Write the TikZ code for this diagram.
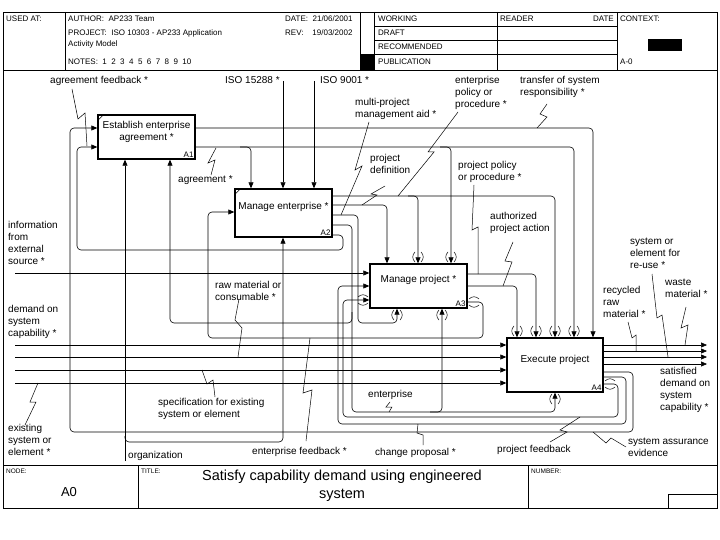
\documentclass[tikz,border=0pt]{standalone}
\usepackage{fontspec}
\setmainfont{Liberation Sans}
\usetikzlibrary{arrows.meta,calc}
\newcommand{\tunT}[2]{\draw[tun] (#1-3,#2-11) .. controls (#1-6,#2-8) and (#1-6,#2-4) .. (#1-3,#2-1);\draw[tun] (#1+3,#2-11) .. controls (#1+6,#2-8) and (#1+6,#2-4) .. (#1+3,#2-1);}
\newcommand{\tunB}[2]{\draw[tun] (#1-3,#2+11) .. controls (#1-6,#2+8) and (#1-6,#2+4) .. (#1-3,#2+1);\draw[tun] (#1+3,#2+11) .. controls (#1+6,#2+8) and (#1+6,#2+4) .. (#1+3,#2+1);}
\newcommand{\tunL}[2]{\draw[tun] (#1-11,#2-3) .. controls (#1-8,#2-6) and (#1-4,#2-6) .. (#1-1,#2-3);\draw[tun] (#1-11,#2+3) .. controls (#1-8,#2+6) and (#1-4,#2+6) .. (#1-1,#2+3);}
\newcommand{\tunR}[2]{\draw[tun] (#1+11,#2-3) .. controls (#1+8,#2-6) and (#1+4,#2-6) .. (#1+1,#2-3);\draw[tun] (#1+11,#2+3) .. controls (#1+8,#2+6) and (#1+4,#2+6) .. (#1+1,#2+3);}
\begin{document}
\begin{tikzpicture}[x=1pt,y=-1pt,
  ln/.style={line width=0.6pt, rounded corners=4pt},
  arr/.style={ln, -{Triangle[length=6pt,width=5pt]}},
  frm/.style={line width=0.6pt},
  tun/.style={line width=0.5pt},
  sq/.style={line width=0.5pt},
  box/.style={draw, line width=1.4pt, inner sep=0pt},
  btxt/.style={font=\fontsize{10}{12}\selectfont, align=center, inner sep=0pt},
  idl/.style={font=\fontsize{8}{9}\selectfont, inner sep=0pt, anchor=south east},
  lbl/.style={font=\fontsize{10}{12}\selectfont, align=left, inner sep=0pt, anchor=north west},
  hdr/.style={font=\fontsize{8}{9}\selectfont, inner sep=0pt, anchor=west},
  hds/.style={font=\fontsize{6.5}{8}\selectfont, inner sep=0pt, anchor=west}]
\useasboundingbox (0,0) rectangle (720,540);
% ---------- frame ----------
\draw[frm] (3,12) rectangle (717,508);
\draw[frm] (3,70) -- (717,70);
\draw[frm] (3,465) -- (717,465);
\draw[frm] (65,12) -- (65,70);
\draw[frm] (360,12) -- (360,70);
\draw[frm] (374,12) -- (374,70);
\draw[frm] (497,12) -- (497,70);
\draw[frm] (617,12) -- (617,70);
\draw[frm] (374,26) -- (617,26);
\draw[frm] (374,40) -- (617,40);
\draw[frm] (374,54) -- (617,54);
\fill (360,54) rectangle (374,70);
\fill (648,39) rectangle (682,51);
\draw[frm] (138,465) -- (138,508);
\draw[frm] (528,465) -- (528,508);
\draw[frm] (668,494) rectangle (717,508);
% header text
\node[hdr] (usedat) at (6,19) {USED AT:};
\node[hdr] (author) at (68,19) {AUTHOR:\ \ AP233 Team};
\node[hdr] (project) at (68,33) {PROJECT:\ \ ISO 10303 - AP233 Application};
\node[hdr] (actmod) at (68,44) {Activity Model};
\node[hdr] (notes) at (68,62) {NOTES:\ \ 1\ \ 2\ \ 3\ \ 4\ \ 5\ \ 6\ \ 7\ \ 8\ \ 9\ \ 10};
\node[hdr] (date) at (285,19) {DATE:\ \ 21/06/2001};
\node[hdr] (rev) at (285,33) {REV:\ \ \ \ 19/03/2002};
\node[hdr] (working) at (378,19) {WORKING};
\node[hdr] (draft) at (378,33) {DRAFT};
\node[hdr] (recom) at (378,47) {RECOMMENDED};
\node[hdr] (publ) at (378,62) {PUBLICATION};
\node[hdr] (reader) at (500,19) {READER};
\node[hdr, anchor=east] (rdate) at (614,19) {DATE};
\node[hdr] (context) at (620,19) {CONTEXT:};
\node[hdr] (azero) at (620,62) {A-0};
% footer text
\node[hds] (nodel) at (6,471) {NODE:};
\node[hds] (titlel) at (141,471) {TITLE:};
\node[hds] (numl) at (531,471) {NUMBER:};
\node[font=\fontsize{13}{15}\selectfont, inner sep=0pt] (nodeval) at (69,492) {A0};
\node[font=\fontsize{14.5}{18}\selectfont, align=center, inner sep=0pt] (title) at (342,486) {Satisfy capability demand using engineered\\system};
% ---------- boxes ----------
\node[box, minimum width=97pt, minimum height=44pt] (A1) at (146.5,137) {};
\node[box, minimum width=97pt, minimum height=48pt] (A2) at (283.5,213) {};
\node[box, minimum width=97pt, minimum height=44pt] (A3) at (418.5,286) {};
\node[box, minimum width=96pt, minimum height=54pt] (A4) at (555,365) {};
\node[btxt] (A1t) at (146.5,132) {Establish enterprise\\agreement *};
\node[btxt] (A2t) at (283.5,207) {Manage enterprise *};
\node[btxt] (A3t) at (418.5,280) {Manage project *};
\node[btxt] (A4t) at (555,360) {Execute project};
\node[idl] (A1n) at ($(A1.south east)+(-2,-2)$) {A1};
\node[idl] (A2n) at ($(A2.south east)+(-2,-2)$) {A2};
\node[idl] (A3n) at ($(A3.south east)+(-2,-2)$) {A3};
\node[idl] (A4n) at ($(A4.south east)+(-2,-2)$) {A4};
\draw[frm] ($(A1.north west)+(0.7,6)$) -- ($(A1.north west)+(6,0.7)$);
\draw[frm] ($(A2.north west)+(0.7,6)$) -- ($(A2.north west)+(6,0.7)$);
% ---------- free ends ----------
\coordinate (iso15) at (283,81);
\coordinate (iso9) at (314,81);
\coordinate (ext) at (15,273);
\coordinate (dem) at (15,345);
\coordinate (raw) at (15,357);
\coordinate (spec) at (15,370);
\coordinate (exist) at (15,383);
\coordinate (org) at (125,461);
\coordinate (waste) at (707,345);
\coordinate (recyc) at (707,351);
\coordinate (reuse) at (707,357);
\coordinate (satis) at (707,364);
% ---------- connectors ----------
\draw[arr] (iso15) -- (283,0 |- A2.north);
\draw[arr] (iso9) -- (314,0 |- A2.north);
% A1 outputs
\draw[arr] (A1.east |- 0,128) -- (593,128) -- (593,0 |- A4.north);
\draw[arr] (A1.east |- 0,147) -- (574,147) -- (574,0 |- A4.north);
\draw[arr] (240,147) -- (251,147) -- (251,0 |- A2.north);
\draw[arr] (440,147) -- (451,147) -- (451,0 |- A3.north);
% A2 outputs
\draw[arr] (A2.east |- 0,196) -- (555,196) -- (555,0 |- A4.north);
\draw[arr] (408,196) -- (418,196) -- (418,0 |- A3.north);
\draw[arr] (A2.east |- 0,205) -- (387,205) -- (387,0 |- A3.north);
\draw[arr] (A2.east |- 0,215) -- (358,215) -- (358,323) -- (397,323) -- (397,0 |- A3.south);
\draw[arr] (A2.east |- 0,225) -- (352,225) -- (352,412) -- (555,412) -- (555,0 |- A4.south);
\draw[arr] (352,312) -- (352,323) -- (170,323) -- (170,0 |- A1.south);
\draw[arr] (430,412) -- (442,412) -- (442,0 |- A3.south);
\draw[arr] (A2.east |- 0,235) -- (343,235) -- (343,250) -- (77,250) -- (77,147) -- (A1.west |- 0,147);
% A3 outputs
\draw[arr] (A3.east |- 0,274) -- (536,274) -- (536,0 |- A4.north);
\draw[arr] (A3.east |- 0,286) -- (517,286) -- (517,0 |- A4.north);
\draw[arr] (A3.east |- 0,302) -- (483,302) -- (483,338) -- (208,338) -- (208,212) -- (A2.west |- 0,212);
% A4 feedback outputs
\draw[arr] (A4.east |- 0,372) -- (633,372) -- (633,432) -- (70,432) -- (70,128) -- (A1.west |- 0,128);
\draw[arr] (A4.east |- 0,377) -- (626,377) -- (626,424) -- (338,424) -- (338,286) -- (A3.west |- 0,286);
\draw[arr] (A4.east |- 0,384) -- (618,384) -- (618,417) -- (343,417) -- (343,300) -- (A3.west |- 0,300);
% boundary inputs
\draw[arr] (ext) -- (A3.west |- ext);
\draw[arr] (dem) -- (A4.west |- dem);
\draw[arr] (raw) -- (A4.west |- raw);
\draw[arr] (spec) -- (A4.west |- spec);
\draw[arr] (exist) -- (A4.west |- exist);
% mechanism organization
\draw[arr] (org) -- (125,0 |- A1.south);
\draw[arr] (125,436) -- (125,442) -- (283,442) -- (283,0 |- A2.south);
% A4 outputs
\draw[arr] (A4.east |- waste) -- (waste);
\draw[arr] (A4.east |- recyc) -- (recyc);
\draw[arr] (A4.east |- reuse) -- (reuse);
\draw[arr] (A4.east |- satis) -- (satis);
% ---------- tunnels ----------
\tunT{418}{263}
\tunT{451}{263}
\tunB{397}{309}
\tunB{442}{309}
\tunT{517}{337}
\tunT{536}{337}
\tunT{555}{337}
\tunT{574}{337}
\tunB{555}{393}
\tunL{369}{300}
\tunR{468}{302}
\tunR{604}{384}
% ---------- labels ----------
\node[lbl] (l1) at (50,76) {agreement feedback *};
\node[lbl] (l2) at (225,76) {ISO 15288 *};
\node[lbl] (l3) at (320,76) {ISO 9001 *};
\node[lbl] (l4) at (355,98) {multi-project\\management aid *};
\node[lbl] (l5) at (455,76) {enterprise\\policy or\\procedure *};
\node[lbl] (l6) at (520,76) {transfer of system\\responsibility *};
\node[lbl] (l7) at (178,175) {agreement *};
\node[lbl] (l8) at (370,154) {project\\definition};
\node[lbl] (l9) at (458,161) {project policy\\or procedure *};
\node[lbl] (l10) at (490,212) {authorized\\project action};
\node[lbl] (l11) at (8,221) {information\\from\\external\\source *};
\node[lbl] (l12) at (215,281) {raw material or\\consumable *};
\node[lbl] (l13) at (8,305) {demand on\\system\\capability *};
\node[lbl] (l14) at (630,238) {system or\\element for\\re-use *};
\node[lbl] (l15) at (665,279) {waste\\material *};
\node[lbl] (l16) at (603,286) {recycled\\raw\\material *};
\node[lbl] (l17) at (660,367) {satisfied\\demand on\\system\\capability *};
\node[lbl] (l18) at (158,398) {specification for existing\\system or element};
\node[lbl] (l19) at (8,424) {existing\\system or\\element *};
\node[lbl] (l20) at (128,451) {organization};
\node[lbl] (l21) at (252,447) {enterprise feedback *};
\node[lbl] (l22) at (368,390) {enterprise};
\node[lbl] (l23) at (375,448) {change proposal *};
\node[lbl] (l24) at (497,445) {project feedback};
\node[lbl] (l25) at (628,438) {system assurance\\evidence};
% ---------- squiggles ----------
\draw[sq] (72,89) -- (78,119) -- (85,113) -- (87,146);
\draw[sq] (216,148) -- (208,163) -- (215,160) -- (211,175);
\draw[sq] (369,122) -- (355,170) -- (362,166) -- (341,215);
\draw[sq] (458,112) -- (428,152) -- (434,152) -- (398,196);
\draw[sq] (547,104) -- (540,114) -- (547,117) -- (537,128);
\draw[sq] (385,186) -- (371,194) -- (377,195) -- (362,205);
\draw[sq] (474,185) -- (472,230) -- (478,227) -- (478,274);
\draw[sq] (513,242) -- (505,261) -- (512,262) -- (503,286);
\draw[sq] (239,299) -- (235,320) -- (242,328) -- (238,357);
\draw[sq] (202,370) -- (207,384) -- (213,380) -- (215,397);
\draw[sq] (38,383) -- (30,402) -- (36,402) -- (25,425);
\draw[sq] (310,338) -- (303,393) -- (312,390) -- (306,441);
\draw[sq] (390,402) -- (386,407) -- (392,407) -- (389,412);
\draw[sq] (418,424) -- (417,433) -- (423,435) -- (423,445);
\draw[sq] (580,417) -- (560,430) -- (567,432) -- (550,442);
\draw[sq] (593,432) -- (606,443) -- (611,438) -- (626,447);
\draw[sq] (628,322) -- (632,338) -- (636,335) -- (636,351);
\draw[sq] (652,274) -- (657,318) -- (662,315) -- (668,357);
\draw[sq] (686,307) -- (681,328) -- (688,325) -- (685,345);
\end{tikzpicture}
\end{document}
